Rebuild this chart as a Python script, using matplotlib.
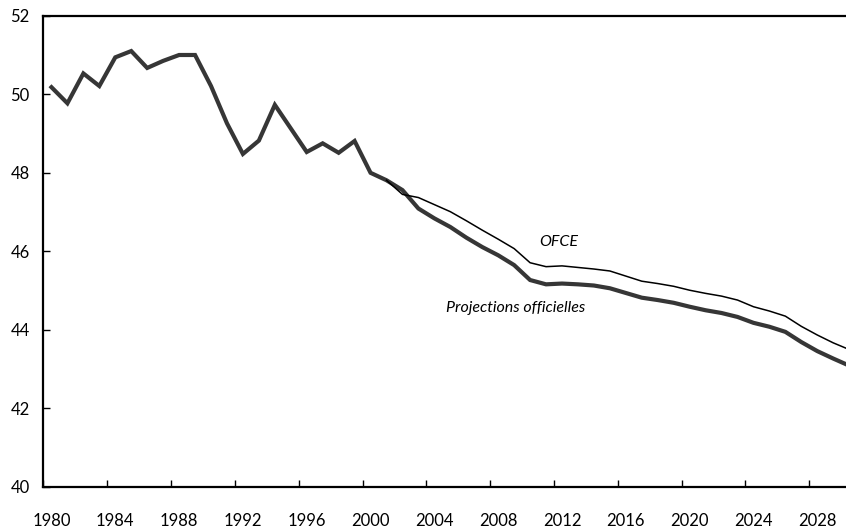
import numpy as np
import matplotlib
matplotlib.use("Agg")
import matplotlib.pyplot as plt

plt.rcParams['font.family'] = ['Lato', 'DejaVu Sans']

# Projections officielles, 1980-2030
years_off = np.arange(1980, 2031)
proj_off = [50.18, 49.77, 50.53, 50.21, 50.94, 51.10, 50.67, 50.85, 51.00, 51.00,
            50.21, 49.26, 48.48, 48.82, 49.73, 49.13, 48.53, 48.75, 48.51, 48.81,
            48.00, 47.81, 47.56, 47.09, 46.84, 46.62, 46.35, 46.11, 45.90, 45.65,
            45.27, 45.16, 45.18, 45.16, 45.13, 45.06, 44.94, 44.82, 44.76, 44.69,
            44.59, 44.50, 44.43, 44.33, 44.18, 44.08, 43.95, 43.69, 43.46, 43.27,
            43.09]

# OFCE, 2001-2030
years_ofce = np.arange(2001, 2031)
ofce = [47.81, 47.45, 47.37, 47.19, 47.01, 46.78, 46.54, 46.31, 46.07, 45.71,
        45.61, 45.63, 45.59, 45.55, 45.50, 45.37, 45.24, 45.18, 45.11, 45.01,
        44.93, 44.86, 44.76, 44.59, 44.48, 44.35, 44.09, 43.87, 43.67, 43.50]

tick_years = np.arange(1980, 2029, 4)
y_ticks = [40, 42, 44, 46, 48, 50, 52]

fig = plt.figure(figsize=(8.46, 5.31), dpi=100)
ax = fig.add_axes([0.0514, 0.0829, 0.9486, 0.8875])

# points sit in the middle of each year's slot
ax.plot(years_off + 0.5, proj_off, color='#363636', lw=3.0, solid_joinstyle='miter')
ax.plot(years_ofce + 0.5, ofce, color='black', lw=1.1)

ax.text(2012.3, 46.24, 'OFCE', style='italic', fontsize=11.5, ha='center', va='center')
ax.text(2009.6, 44.55, 'Projections officielles', style='italic', fontsize=11.5,
        ha='center', va='center')

ax.set_xlim(1980, 2030.3)
ax.set_ylim(40, 52)

ax.set_xticks(tick_years)
ax.set_xticklabels([])
ax.set_xticks(tick_years + 0.5, minor=True)
ax.set_xticklabels([str(y) for y in tick_years], minor=True)
ax.tick_params(axis='x', which='major', direction='in', length=5, width=1.0)
ax.tick_params(axis='x', which='minor', length=0, pad=19, labelsize=12)

ax.set_yticks(y_ticks)
ax.tick_params(axis='y', direction='in', length=5, width=1.0, pad=10, labelsize=12)

ax.spines['right'].set_visible(False)
for s in ['left', 'bottom', 'top']:
    ax.spines[s].set_linewidth(1.6)

fig.savefig('out.png', dpi=100)
